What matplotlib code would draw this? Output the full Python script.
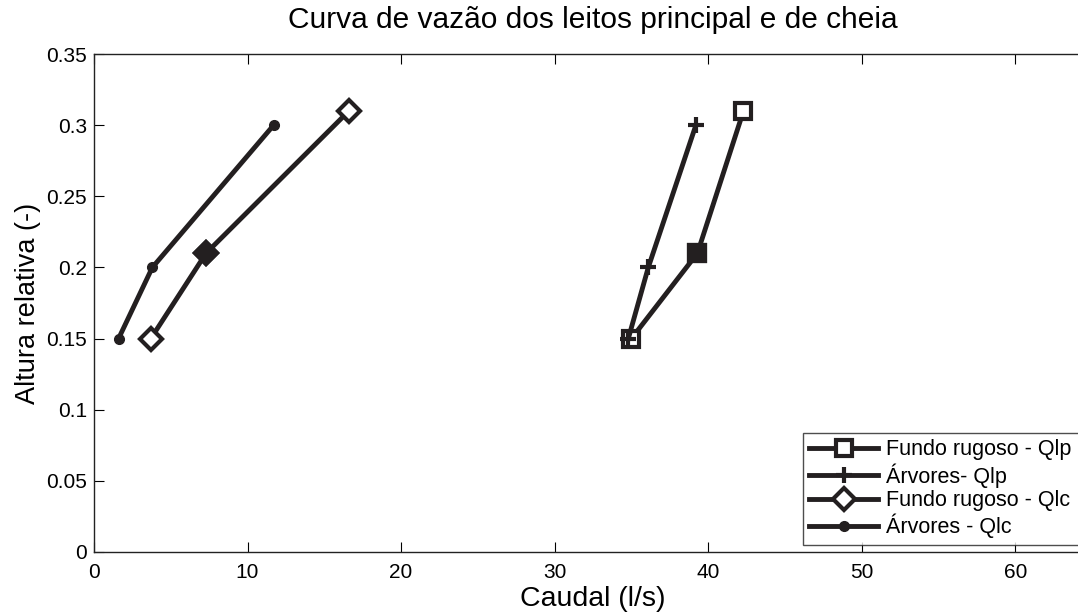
import matplotlib
matplotlib.use("Agg")
import matplotlib.pyplot as plt

plt.rcParams['font.family'] = ['Liberation Sans', 'DejaVu Sans']

# Data
y_levels_a = [0.15, 0.21, 0.31]
y_levels_b = [0.15, 0.20, 0.30]
fundo_qlp = [35.0, 39.3, 42.3]
arvores_qlp = [34.8, 36.1, 39.2]
fundo_qlc = [3.7, 7.3, 16.6]
arvores_qlc = [1.6, 3.8, 11.7]

labels = ['Fundo rugoso - Qlp', 'Árvores- Qlp', 'Fundo rugoso - Qlc', 'Árvores - Qlc']
xticks = [0, 10, 20, 30, 40, 50, 60]
yticks = [0, 0.05, 0.1, 0.15, 0.2, 0.25, 0.3, 0.35]
ytick_labels = ['0', '0.05', '0.1', '0.15', '0.2', '0.25', '0.3', '0.35']

fig = plt.figure(figsize=(10.78, 6.14), dpi=100)
ax = fig.add_axes([0.0872, 0.101, 0.9258, 0.811])

c = '#231f20'
lw = 3.5
ax.plot(fundo_qlp, y_levels_a, color=c, lw=lw, marker='s', ms=11, mfc='white', mec=c, mew=3, label=labels[0])
ax.plot(fundo_qlp[1], y_levels_a[1], ls='none', marker='s', ms=11, mfc=c, mec=c, mew=3)
ax.plot(arvores_qlp, y_levels_b, color=c, lw=lw, marker='+', ms=12, mec=c, mew=3, label=labels[1])
ax.plot(fundo_qlc, y_levels_a, color=c, lw=lw, marker='D', ms=11, mfc='white', mec=c, mew=3, label=labels[2])
ax.plot(fundo_qlc[1], y_levels_a[1], ls='none', marker='D', ms=11, mfc=c, mec=c, mew=3)
ax.plot(arvores_qlc, y_levels_b, color=c, lw=lw, marker='o', ms=7, mfc=c, mec=c, label=labels[3])

ax.set_xlim(0, 65)
ax.set_ylim(0, 0.35)
ax.set_xticks(xticks)
ax.set_xticklabels([str(v) for v in xticks])
ax.set_yticks(yticks)
ax.set_yticklabels(ytick_labels)
ax.tick_params(direction='in', top=True, right=True, labelsize=15, length=7, width=0.8, pad=5)
ax.tick_params(axis='x', pad=8)
for s in ax.spines.values():
    s.set_linewidth(1.0)
    s.set_color('#222222')

ax.set_title('Curva de vazão dos leitos principal e de cheia', fontsize=21.5, pad=19)
ax.set_xlabel('Caudal (l/s)', fontsize=20.5, labelpad=3)
ax.set_ylabel('Altura relativa (-)', fontsize=19.5, labelpad=4)

leg = ax.legend(loc='upper left', bbox_to_anchor=(0.7104, 0.239, 0.32, 0.0), mode='expand',
                fontsize=15.5, frameon=True, fancybox=False, edgecolor='#222222',
                handlelength=3.2, borderpad=0.3, labelspacing=0.12, handletextpad=0.35,
                borderaxespad=0)
leg.get_frame().set_linewidth(1.0)

fig.savefig('out.png', dpi=100)
